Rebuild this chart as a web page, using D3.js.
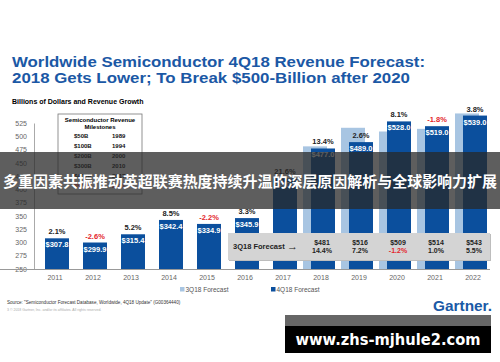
<!DOCTYPE html>
<html>
<head>
<meta charset="utf-8">
<script src="https://cdn.jsdelivr.net/npm/d3@7"></script>
<style>
  body { margin: 0; background: #fff; }
  svg { display: block; font-family: "Liberation Sans", Arial, sans-serif; }
</style>
</head>
<body>
<script>
// data
var years = ["2011", "2012", "2013", "2014", "2015", "2016", "2017", "2018", "2019", "2020", "2021", "2022"];
var rev4Q18 = [307.8, 299.9, 315.4, 342.4, 334.9, 345.9, 420.6, 477.0, 489.0, 528.0, 519.0, 539.0];
var growth4Q18 = [2.1, -2.6, 5.2, 8.5, -2.2, 3.3, 21.6, 13.4, 2.6, 8.1, -1.8, 3.8];
var fcYears = ["2018", "2019", "2020", "2021", "2022"];
var rev3Q18 = [481, 516, 509, 514, 543];
var growth3Q18 = [14.4, 7.2, -1.2, 1.0, 5.5];
var yTicks = [250, 275, 300, 325, 350, 375, 400, 425, 450, 475, 500, 525];
var milestones = [["$50B", "1989"], ["$100B", "1994"], ["$200B", "2000"], ["$300B", "2010"], ["$400B", "2017"], ["$500B", "2021"]];

var W = 500, H = 362;
var dark = "#0b4f9d", light = "#a8c5e2", red = "#e3262c", blue = "#1b58a5";

var svg = d3.select("body").append("svg")
	.attr("width", W)
	.attr("height", H);

var x = d3.scaleBand()
	.domain(years)
	.range([36, 492]);

var y = d3.scaleLinear()
	.domain([250, 525])
	.range([269, 123]);

var fmtPct = d => d.toFixed(1) + "%";

// title
svg.append("text")
	.attr("x", 12).attr("y", 67)
	.attr("fill", blue).attr("font-weight", "bold").attr("font-size", 15)
	.attr("textLength", 413).attr("lengthAdjust", "spacingAndGlyphs")
	.text("Worldwide Semiconductor 4Q18 Revenue Forecast:");
svg.append("text")
	.attr("x", 12).attr("y", 83)
	.attr("fill", blue).attr("font-weight", "bold").attr("font-size", 15)
	.attr("textLength", 398).attr("lengthAdjust", "spacingAndGlyphs")
	.text("2018 Gets Lower; To Break $500-Billion after 2020");
svg.append("text")
	.attr("x", 12).attr("y", 104)
	.attr("font-weight", "bold").attr("font-size", 7)
	.text("Billions of Dollars and Revenue Growth");

// y axis
svg.append("g")
	.attr("transform", "translate(34,0)")
	.call(d3.axisLeft(y).tickValues(yTicks).tickSize(0).tickPadding(7))
	.call(g => g.select(".domain").attr("stroke", "#aaa"))
	.call(g => g.selectAll("text").attr("fill", "#666").attr("font-size", 7).attr("font-family", "Liberation Sans, Arial"));

// milestone box
var mb = svg.append("g");
mb.append("rect")
	.attr("x", 58).attr("y", 114).attr("width", 84).attr("height", 80)
	.attr("fill", "#fff").attr("stroke", "#777").attr("stroke-width", 0.8);
mb.append("text").attr("x", 100).attr("y", 122).attr("text-anchor", "middle")
	.attr("font-size", 6).attr("font-weight", "bold").text("Semiconductor Revenue");
mb.append("text").attr("x", 100).attr("y", 129).attr("text-anchor", "middle")
	.attr("font-size", 6).attr("font-weight", "bold").text("Milestones");
mb.selectAll(".row")
	.data(milestones)
	.enter().append("g")
	.each(function(d, i) {
		var c = i == 5 ? red : "#111";
		d3.select(this).append("text").attr("x", 74).attr("y", 138 + i * 10)
			.attr("font-size", 6).attr("font-weight", "bold").attr("fill", c).text(d[0]);
		d3.select(this).append("text").attr("x", 112).attr("y", 138 + i * 10)
			.attr("font-size", 6).attr("font-weight", "bold").attr("fill", c).text(d[1]);
	});

// 3Q18 bars (behind)
svg.selectAll(".bar3")
	.data(fcYears)
	.enter().append("rect")
	.attr("x", d => x(d) + 1)
	.attr("width", 24)
	.attr("y", (d, i) => y(rev3Q18[i]))
	.attr("height", (d, i) => y(250) - y(rev3Q18[i]))
	.attr("fill", light);

// 4Q18 bars
svg.selectAll(".bar4")
	.data(years)
	.enter().append("rect")
	.attr("x", d => x(d) + 9)
	.attr("width", 24)
	.attr("y", (d, i) => y(rev4Q18[i]))
	.attr("height", (d, i) => y(250) - y(rev4Q18[i]))
	.attr("fill", dark);

svg.selectAll(".val")
	.data(years)
	.enter().append("text")
	.attr("x", d => x(d) + 21)
	.attr("y", (d, i) => y(rev4Q18[i]) + 9)
	.attr("text-anchor", "middle")
	.attr("fill", "#fff").attr("font-weight", "bold").attr("font-size", 7.5)
	.text((d, i) => "$" + rev4Q18[i].toFixed(1));

svg.selectAll(".gr")
	.data(years)
	.enter().append("text")
	.attr("x", d => x(d) + 21)
	.attr("y", (d, i) => y(rev4Q18[i]) - 4)
	.attr("text-anchor", "middle")
	.attr("fill", (d, i) => growth4Q18[i] < 0 ? red : "#222")
	.attr("font-weight", "bold").attr("font-size", 7.5)
	.text((d, i) => fmtPct(growth4Q18[i]));

// x axis
svg.append("g")
	.attr("transform", "translate(0,269)")
	.call(d3.axisBottom(x).tickSize(0).tickPadding(6))
	.call(g => g.select(".domain").attr("stroke", "#999").attr("d", "M-2,0.5H490"))
	.call(g => g.selectAll("text").attr("fill", "#666").attr("font-size", 7).attr("font-family", "Liberation Sans, Arial"));

// 3Q18 forecast table
var tb = svg.append("g");
tb.append("rect")
	.attr("x", 229).attr("y", 234).attr("width", 262).attr("height", 27)
	.attr("fill", "#bdbdbd");
tb.append("rect")
	.attr("x", 228).attr("y", 233).attr("width", 262).attr("height", 27)
	.attr("fill", "#d4d4d4");
tb.append("text").attr("x", 233).attr("y", 249)
	.attr("font-size", 7.5).attr("font-weight", "bold").attr("fill", "#222")
	.text("3Q18 Forecast");
tb.append("text").attr("x", 287).attr("y", 250)
	.attr("font-size", 11).attr("fill", "#222")
	.text("\u2192");
tb.selectAll(".fv")
	.data(fcYears)
	.enter().append("text")
	.attr("x", d => x(d) + 20)
	.attr("y", 245)
	.attr("text-anchor", "middle")
	.attr("font-size", 7).attr("font-weight", "bold").attr("fill", "#222")
	.text((d, i) => "$" + rev3Q18[i]);
tb.selectAll(".fg")
	.data(fcYears)
	.enter().append("text")
	.attr("x", d => x(d) + 20)
	.attr("y", 253)
	.attr("text-anchor", "middle")
	.attr("font-size", 7).attr("font-weight", "bold")
	.attr("fill", (d, i) => growth3Q18[i] < 0 ? red : "#222")
	.text((d, i) => fmtPct(growth3Q18[i]));

// legend
var legend = [["3Q18 Forecast", light, 180], ["4Q18 Forecast", dark, 271]];
legend.forEach(function(l) {
	svg.append("rect").attr("x", l[2]).attr("y", 287).attr("width", 4.5).attr("height", 4.5).attr("fill", l[1]);
	svg.append("text").attr("x", l[2] + 5.5).attr("y", 292)
		.attr("font-size", 6.5).attr("fill", "#555").text(l[0]);
});

// footer
svg.append("text").attr("x", 7).attr("y", 304)
	.attr("font-size", 4.6).attr("fill", "#333")
	.text("Source: \"Semiconductor Forecast Database, Worldwide, 4Q18 Update\" (G00364440)");
svg.append("text").attr("x", 7).attr("y", 311)
	.attr("font-size", 3.5).attr("fill", "#aaa")
	.text("3      \u00a9 2018 Gartner, Inc. and/or its affiliates. All rights reserved.");
svg.append("text").attr("x", 433).attr("y", 311)
	.attr("font-size", 15).attr("font-weight", "bold").attr("fill", "#1a5aa6")
	.attr("textLength", 59).attr("lengthAdjust", "spacingAndGlyphs")
	.text("Gartner.");

// overlay banner
svg.append("rect").attr("x", 0).attr("y", 152).attr("width", W).attr("height", 57)
	.attr("fill", "rgba(40,40,40,0.75)");
svg.append("text").attr("x", 250).attr("y", 187)
	.attr("text-anchor", "middle")
	.attr("font-family", "Noto Sans CJK SC").attr("font-weight", "bold").attr("font-size", 15)
	.attr("fill", "#fff")
	.attr("textLength", 494).attr("lengthAdjust", "spacingAndGlyphs")
	.text("多重因素共振推动英超联赛热度持续升温的深层原因解析与全球影响力扩展");

// watermark
svg.append("rect").attr("x", 285).attr("y", 315).attr("width", 206).attr("height", 11).attr("fill", "#666");
svg.append("rect").attr("x", 285).attr("y", 326).attr("width", 206).attr("height", 27).attr("fill", "#000");
svg.append("text").attr("x", 388).attr("y", 345)
	.attr("text-anchor", "middle")
	.attr("font-family", "DejaVu Sans").attr("font-weight", "bold").attr("font-size", 16)
	.attr("fill", "#fff")
	.attr("textLength", 185).attr("lengthAdjust", "spacingAndGlyphs")
	.text("www.zhs-mjhule2.com");
</script>
</body>
</html>
